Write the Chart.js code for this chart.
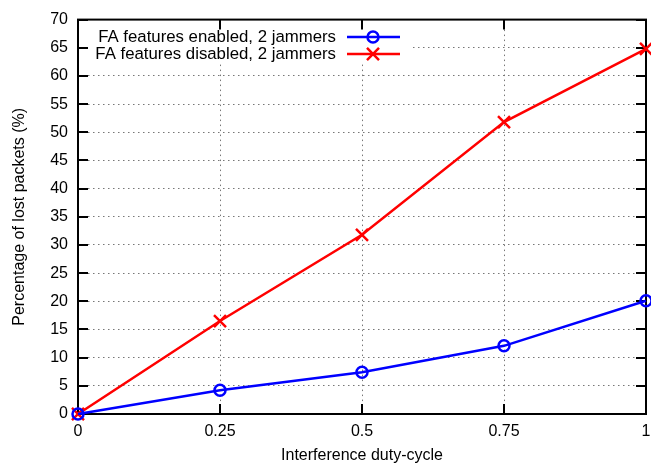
<!DOCTYPE html>
<html>
<head>
<meta charset="utf-8">
<script src="https://cdn.jsdelivr.net/npm/chart.js@4/dist/chart.umd.min.js"></script>
<style>
  html, body { margin: 0; padding: 0; background: #fff; overflow: hidden; }
  #wrap { width: 700px; height: 470px; }
</style>
</head>
<body>
<div id="wrap"><canvas id="myChart" width="700" height="470"></canvas></div>
<script>
const dutyCycle = [0, 0.25, 0.5, 0.75, 1];
const lostEnabled = [0, 4.2, 7.4, 12.1, 20.1];
const lostDisabled = [0, 16.5, 31.8, 51.8, 64.8];
const xTicks = [0, 0.25, 0.5, 0.75, 1];
const xTickLabels = ['0', '0.25', '0.5', '0.75', '1'];
const yTicks = [0, 5, 10, 15, 20, 25, 30, 35, 40, 45, 50, 55, 60, 65, 70];

const font = 'Liberation Sans, Arial, sans-serif';
const chart = document.getElementById('myChart');

// gnuplot style frame: border, inward ticks on all four sides, opaque key box
const gnuFrame = {
    id: 'gnuFrame',
    beforeDatasetsDraw(c) {
        const ctx = c.ctx;
        const a = c.chartArea;
        const xs = c.scales.x, ys = c.scales.y;
        ctx.save();
        // key background
        ctx.fillStyle = '#fff';
        ctx.fillRect(88, 27, 322, 36);
        ctx.strokeStyle = '#000';
        ctx.lineWidth = 2;
        const tl = 10;
        ctx.beginPath();
        yTicks.forEach(v => {
            const y = Math.round(ys.getPixelForValue(v));
            ctx.moveTo(a.left, y); ctx.lineTo(a.left + tl, y);
            ctx.moveTo(a.right, y); ctx.lineTo(a.right - tl, y);
        });
        xTicks.forEach(v => {
            const x = Math.round(xs.getPixelForValue(v));
            ctx.moveTo(x, a.bottom); ctx.lineTo(x, a.bottom - tl);
            ctx.moveTo(x, a.top); ctx.lineTo(x, a.top + tl);
        });
        ctx.stroke();
        ctx.strokeRect(a.left, a.top, a.right - a.left, a.bottom - a.top);
        ctx.restore();
    },
    afterDatasetsDraw(c) {
        const ctx = c.ctx;
        ctx.save();
        ctx.font = '16.8px ' + font;
        ctx.textAlign = 'right';
        ctx.textBaseline = 'middle';
        const rows = [37, 54];
        c.data.datasets.forEach((ds, i) => {
            const y = rows[i];
            ctx.fillStyle = '#000';
            ctx.fillText(ds.label, 336, y);
            ctx.strokeStyle = ds.borderColor;
            ctx.lineWidth = 2.5;
            ctx.beginPath();
            ctx.moveTo(347, y); ctx.lineTo(400, y);
            ctx.stroke();
            ctx.fillStyle = 'rgba(0,0,0,0)';
            Chart.helpers.drawPoint(ctx, {
                pointStyle: ds.pointStyle,
                radius: ds.pointRadius,
                borderWidth: ds.pointBorderWidth
            }, 373, y);
        });
        ctx.restore();
    }
};

const data = {
    datasets: [{
        label: 'FA features enabled, 2 jammers',
        data: dutyCycle.map((x, i) => ({ x: x, y: lostEnabled[i] })),
        borderColor: '#0000ff',
        backgroundColor: 'rgba(0,0,0,0)',
        borderWidth: 2.5,
        pointStyle: 'circle',
        pointRadius: 5.5,
        pointBorderWidth: 2.5,
        pointBorderColor: '#0000ff',
        pointBackgroundColor: 'rgba(0,0,0,0)',
        tension: 0,
        clip: false
    }, {
        label: 'FA features disabled, 2 jammers',
        data: dutyCycle.map((x, i) => ({ x: x, y: lostDisabled[i] })),
        borderColor: '#ff0000',
        backgroundColor: 'rgba(0,0,0,0)',
        borderWidth: 2.5,
        pointStyle: 'crossRot',
        pointRadius: 8.5,
        pointBorderWidth: 2.5,
        pointBorderColor: '#ff0000',
        tension: 0,
        clip: false
    }]
};

const config = {
    type: 'line',
    data: data,
    options: {
        responsive: false,
        animation: false,
        layout: { padding: { left: 0, top: 14, right: 54, bottom: 0 } },
        plugins: {
            legend: { display: false },
            tooltip: { enabled: false }
        },
        scales: {
            x: {
                type: 'linear',
                min: 0,
                max: 1,
                afterBuildTicks: s => { s.ticks = xTicks.map(v => ({ value: v })); },
                afterFit: s => { s.height = 56; },
                ticks: {
                    callback: (v) => xTickLabels[xTicks.indexOf(v)],
                    color: '#000',
                    font: { family: font, size: 16 },
                    padding: 8,
                    maxRotation: 0
                },
                grid: { color: '#777', lineWidth: 1, drawTicks: false },
                border: { display: false, dash: [1.5, 3.5] },
                title: {
                    display: true,
                    text: 'Interference duty-cycle',
                    color: '#000',
                    font: { family: font, size: 16 },
                    padding: { top: 0, bottom: 5 }
                }
            },
            y: {
                min: 0,
                max: 70,
                afterBuildTicks: s => { s.ticks = yTicks.map(v => ({ value: v })); },
                afterFit: s => { s.width = 78; },
                ticks: {
                    color: '#000',
                    font: { family: font, size: 16 },
                    padding: 10
                },
                grid: { color: '#777', lineWidth: 1, drawTicks: false },
                border: { display: false, dash: [1.5, 3.5] },
                title: {
                    display: true,
                    text: 'Percentage of lost packets (%)',
                    color: '#000',
                    font: { family: font, size: 16 },
                    padding: { top: 10, bottom: 0 }
                }
            }
        }
    },
    plugins: [gnuFrame]
};

const myChart = new Chart(chart, config);
</script>
</body>
</html>
